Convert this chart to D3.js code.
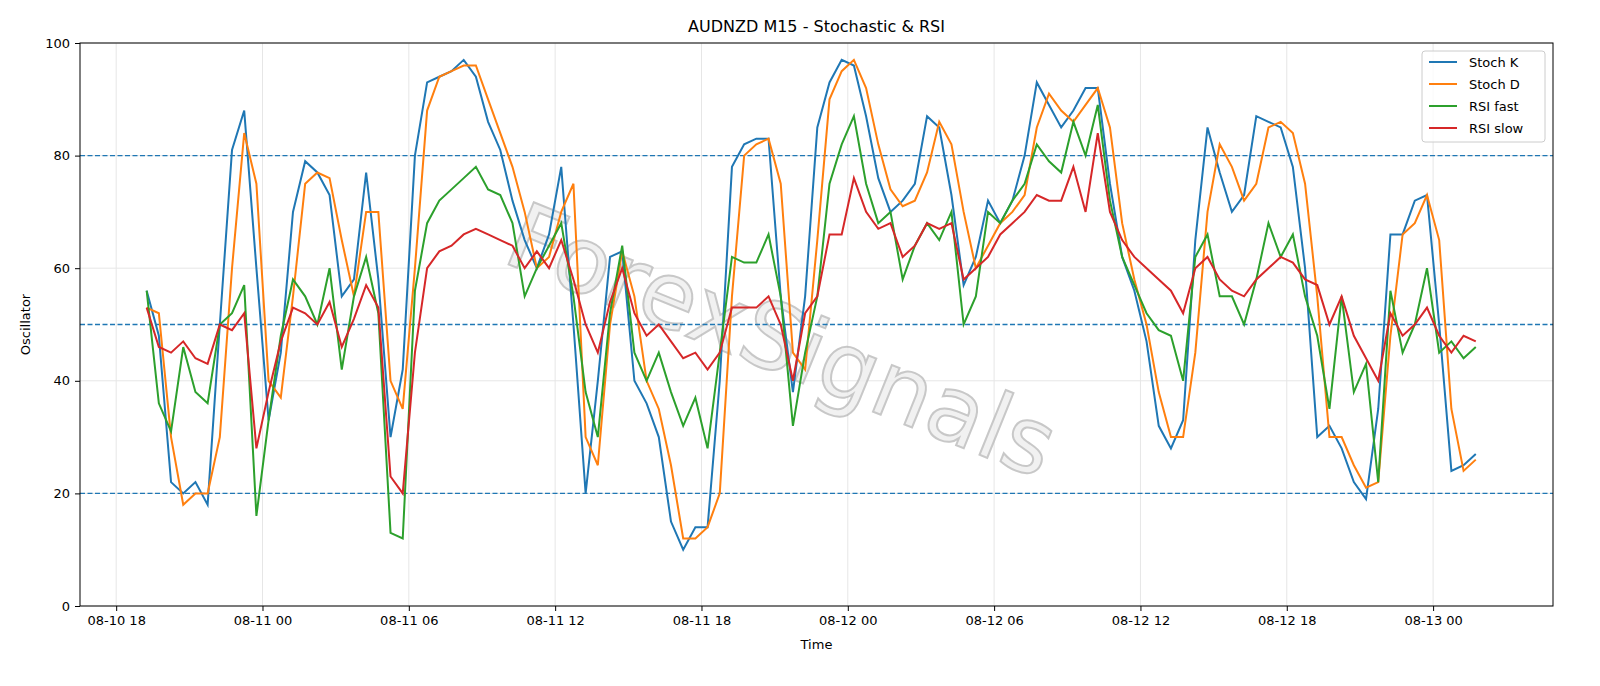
<!DOCTYPE html>
<html>
<head>
<meta charset="utf-8">
<script src="https://cdn.jsdelivr.net/npm/d3@7"></script>
<style>
html, body { margin: 0; padding: 0; background: #fff; overflow: hidden; }
svg { display: block; }
text { font-family: "DejaVu Sans", sans-serif; }
</style>
</head>
<body>
<div id="chart"></div>
<script>
// 30-minute samples starting 2025-08-10 19:15
var stochK = [56,48,22,20,22,18,50,81,88,60,33,45,70,79,77,73,55,58,77,58,30,42,80,93,94,95,97,94,86,81,
  72,65,60,66,78,50,20,40,62,63,40,36,30,15,10,14,14,40,78,82,83,83,55,38,55,85,93,97,96,87,
  76,70,72,75,87,85,73,57,62,72,68,72,80,93,89,85,88,92,92,75,62,56,47,32,28,33,65,85,77,70,
  73,87,86,85,78,60,30,32,28,22,19,35,66,66,72,73,50,24,25,27];
var stochD = [53,52,30,18,20,20,30,60,84,75,40,37,55,75,77,76,65,55,70,70,40,35,60,88,94,95,96,96,90,84,
  78,70,60,62,70,75,30,25,50,63,55,40,35,25,12,12,14,20,55,80,82,83,75,45,42,65,90,95,97,92,
  82,74,71,72,77,86,82,70,60,64,68,70,73,85,91,88,86,89,92,85,68,58,50,38,30,30,45,70,82,78,
  72,75,85,86,84,75,55,30,30,25,21,22,48,66,68,73,65,35,24,26];
var rsiFast = [56,36,31,46,38,36,50,52,57,16,33,48,58,55,50,60,42,55,62,52,13,12,56,68,72,74,76,78,74,73,
  68,55,60,64,68,55,38,30,52,64,45,40,45,38,32,37,28,45,62,61,61,66,55,32,45,55,75,82,87,75,
  68,70,58,64,68,65,70,50,55,70,68,72,75,82,79,77,86,80,89,72,62,57,52,49,48,40,62,66,55,55,
  50,58,68,62,66,55,48,35,55,38,43,22,56,45,50,60,45,47,44,46];
var rsiSlow = [53,46,45,47,44,43,50,49,52,28,38,47,53,52,50,54,46,51,57,53,23,20,45,60,63,64,66,67,66,65,
  64,60,63,60,65,58,50,45,54,60,52,48,50,47,44,45,42,45,53,53,53,55,50,40,52,55,66,66,76,70,
  67,68,62,64,68,67,68,58,60,62,66,68,70,73,72,72,78,70,84,70,65,62,60,58,56,52,60,62,58,56,
  55,58,60,62,61,58,57,50,55,48,44,40,52,48,50,53,48,45,48,47];
var seriesNames = ["Stoch K", "Stoch D", "RSI fast", "RSI slow"];
var seriesColors = ["#1f77b4", "#ff7f0e", "#2ca02c", "#d62728"];
var levels = [80, 50, 20];
var yTicks = [0, 20, 40, 60, 80, 100];

const W = 1600, H = 686;
const m = {left: 80, right: 47, top: 43, bottom: 80};
var start = Date.UTC(2025, 7, 10, 19, 15);
var times = stochK.map(function(d, i){ return new Date(start + i * 30 * 60000); });

var svg = d3.select("#chart").append("svg").attr("width", W).attr("height", H);

var x = d3.scaleUtc()
  .domain([new Date(Date.UTC(2025, 7, 10, 16, 31)), new Date(Date.UTC(2025, 7, 13, 4, 55))])
  .range([m.left, W - m.right]);
var y = d3.scaleLinear().domain([0, 100]).range([H - m.bottom, m.top]);

var xTicks = d3.utcHour.every(6).range(new Date(Date.UTC(2025, 7, 10, 18)), new Date(Date.UTC(2025, 7, 13, 1)));

// grid
svg.append("g").selectAll("line").data(xTicks).enter().append("line")
  .attr("x1", d => x(d)).attr("x2", d => x(d)).attr("y1", m.top).attr("y2", H - m.bottom)
  .attr("stroke", "#e6e6e6");
svg.append("g").selectAll("line").data(yTicks).enter().append("line")
  .attr("x1", m.left).attr("x2", W - m.right).attr("y1", d => y(d)).attr("y2", d => y(d))
  .attr("stroke", "#e6e6e6");

// watermark
svg.append("text").attr("transform", "translate(770,370) rotate(22)")
  .attr("text-anchor", "middle").attr("font-size", 92).attr("fill", "#eee")
  .attr("stroke", "#bbb").attr("stroke-width", 2).attr("opacity", 0.8)
  .text("ForexSignals");

// levels
svg.append("g").selectAll("line").data(levels).enter().append("line")
  .attr("x1", m.left).attr("x2", W - m.right).attr("y1", d => y(d)).attr("y2", d => y(d))
  .attr("stroke", "#1f77b4").attr("stroke-width", 1.3).attr("stroke-dasharray", "5,2.5");

var line = d3.line().x((d, i) => x(times[i])).y(d => y(d));
[stochK, stochD, rsiFast, rsiSlow].forEach(function(s, k){
  svg.append("path").datum(s).attr("d", line).attr("fill", "none")
    .attr("stroke", seriesColors[k]).attr("stroke-width", 2);
});

// axes
svg.append("g").attr("transform", "translate(0," + (H - m.bottom) + ")")
  .call(d3.axisBottom(x).tickValues(xTicks).tickFormat(d3.utcFormat("%m-%d %H")).tickSize(5).tickPadding(5))
  .call(g => g.select(".domain").remove())
  .selectAll("text").attr("font-size", 13).attr("fill", "#000");
svg.append("g").attr("transform", "translate(" + m.left + ",0)")
  .call(d3.axisLeft(y).tickValues(yTicks).tickSize(5).tickPadding(5))
  .call(g => g.select(".domain").remove())
  .selectAll("text").attr("font-size", 13).attr("fill", "#000");
svg.append("rect").attr("x", m.left).attr("y", m.top)
  .attr("width", W - m.left - m.right).attr("height", H - m.top - m.bottom)
  .attr("fill", "none").attr("stroke", "#000").attr("stroke-width", 1);

svg.append("text").attr("x", (m.left + W - m.right) / 2).attr("y", 32).attr("text-anchor", "middle")
  .attr("font-size", 16).text("AUDNZD M15 - Stochastic & RSI");
svg.append("text").attr("x", (m.left + W - m.right) / 2).attr("y", 649).attr("text-anchor", "middle")
  .attr("font-size", 13).text("Time");
svg.append("text").attr("transform", "translate(30," + ((m.top + H - m.bottom) / 2) + ") rotate(-90)")
  .attr("text-anchor", "middle").attr("font-size", 13).text("Oscillator");

// legend
var lg = svg.append("g").attr("transform", "translate(1422,51)");
lg.append("rect").attr("width", 123).attr("height", 91).attr("rx", 3)
  .attr("fill", "#fff").attr("fill-opacity", 0.8).attr("stroke", "#ccc");
seriesNames.forEach(function(n, k){
  var gy = 11 + k * 22;
  lg.append("line").attr("x1", 7).attr("x2", 35).attr("y1", gy).attr("y2", gy)
    .attr("stroke", seriesColors[k]).attr("stroke-width", 2);
  lg.append("text").attr("x", 47).attr("y", gy + 5).attr("font-size", 13).text(n);
});
</script>
</body>
</html>
